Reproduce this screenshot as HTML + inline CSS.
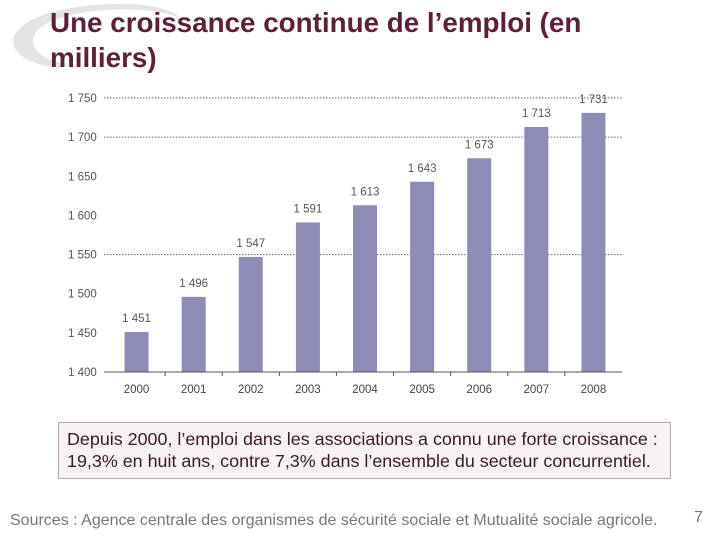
<!DOCTYPE html>
<html><head><meta charset="utf-8"><style>
body{margin:0;width:720px;height:540px;background:#fff;position:relative;overflow:hidden;font-family:"Liberation Sans",sans-serif}
#title{position:absolute;left:50px;top:5px;font-size:27.8px;font-weight:bold;color:#5e1f3a;line-height:35px;width:570px}
#note{position:absolute;left:58px;top:422px;width:613px;height:57px;border:1px solid #b8a8ae;background:#f7f3f4;color:#3a1a28;font-size:17.9px;line-height:22px;padding:5px 0 0 8px;box-sizing:border-box;white-space:nowrap}
#src{position:absolute;left:10px;top:512px;font-size:16px;color:#777;white-space:nowrap}
#pg{position:absolute;left:694px;top:509px;font-size:16px;color:#777}
</style></head><body>
<svg width="200" height="80" style="position:absolute;left:0;top:0">
<path d="M60 68 C0 62 -5 25 60 10 C120 -2 170 5 180 18 C160 8 100 5 60 18 C20 30 25 58 70 65 Z" fill="#e4e4e4"/>
</svg>
<div id="title">Une croissance continue de l’emploi (en milliers)</div>
<svg id="chart" width="720" height="410" style="position:absolute;left:0;top:0"></svg>
<div id="note">Depuis 2000, l’emploi dans les associations a connu une forte croissance :<br>19,3% en huit ans, contre 7,3% dans l’ensemble du secteur concurrentiel.</div>
<div id="src">Sources : Agence centrale des organismes de sécurité sociale et Mutualité sociale agricole.</div>
<div id="pg">7</div>
<script>
const categories=["2000","2001","2002","2003","2004","2005","2006","2007","2008"];
const values=[1451,1496,1547,1591,1613,1643,1673,1713,1731];
const valueLabels=["1 451","1 496","1 547","1 591","1 613","1 643","1 673","1 713","1 731"];
const ticks=[1400,1450,1500,1550,1600,1650,1700,1750];
const tickLabels=["1 400","1 450","1 500","1 550","1 600","1 650","1 700","1 750"];
const gridValues=[1550,1700,1750];
const NS="http://www.w3.org/2000/svg",svg=document.getElementById('chart');
const x0=108,x1=622,yMin=1400,yMax=1750,py0=372,py1=98;
const y=v=>py0-(v-yMin)/(yMax-yMin)*(py0-py1);
const step=(x1-x0)/categories.length;
const xc=i=>x0+step*(i+0.5);
function mk(t,a){const e=document.createElementNS(NS,t);for(const k in a)e.setAttribute(k,a[k]);svg.appendChild(e);return e;}
gridValues.forEach(v=>{
const l=mk('line',{x1:x0-4,x2:x1,y1:y(v),y2:y(v),stroke:'#666','stroke-dasharray':'1.5,1.5'});


});
ticks.forEach((v,i)=>{
const t=mk('text',{x:68,y:y(v)+4,'font-size':11.5,fill:'#555'});t.textContent=tickLabels[i];


});
values.forEach((v,i)=>{
const b=mk('rect',{x:xc(i)-12,y:y(v),width:24,height:py0-y(v),fill:'#8c8cb6'});


const t=mk('text',{x:xc(i),y:y(v)-10,'font-size':11.5,fill:'#555','text-anchor':'middle'});t.textContent=valueLabels[i];


const c=mk('text',{x:xc(i),y:py0+21,'font-size':11.5,fill:'#444','text-anchor':'middle'});c.textContent=categories[i];


if(i>0){const tk=mk('line',{x1:x0+step*i,x2:x0+step*i,y1:py0,y2:py0+4,stroke:'#555'});

}
});
const ax=mk('line',{x1:x0-4,x2:x1,y1:py0,y2:py0,stroke:'#555'});


</script>
</body></html>
